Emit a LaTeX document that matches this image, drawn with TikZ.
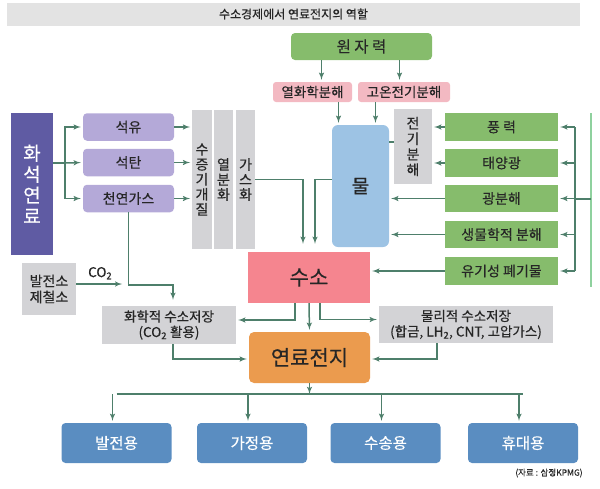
\documentclass[tikz,border=0pt]{standalone}
\usepackage{fontspec}
\setmainfont{Noto Sans CJK KR}[FakeBold=0.35]
\usepackage{xcolor}
\usepackage{tikz}
\usetikzlibrary{arrows,shapes}

\definecolor{flow}{HTML}{4E7F6B}
\definecolor{titlegray}{HTML}{E3E3E3}
\definecolor{boxgray}{HTML}{D3D3D6}
\definecolor{fuelpurple}{HTML}{5F5BA3}
\definecolor{lightpurple}{HTML}{B4A9D8}
\definecolor{srcgreen}{HTML}{86BC6C}
\definecolor{lightpink}{HTML}{F3B9C2}
\definecolor{htwopink}{HTML}{F5858F}
\definecolor{waterblue}{HTML}{9DC3E4}
\definecolor{fcorange}{HTML}{EB9B4E}
\definecolor{useblue}{HTML}{5A8DC1}
\definecolor{feedgreen}{HTML}{8FD19E}

\begin{document}
\begin{tikzpicture}[
	x=1pt, y=-1pt,
	every node/.style={
		rectangle, inner sep=0pt,
		align=center, text=black!85
	},
	box/.style={
		fill=boxgray,
		font=\fontsize{13.5}{15.5}\selectfont
	},
	vbox/.style={
		fill=boxgray, minimum width=19.5, minimum height=139,
		font=\fontsize{14}{15}\selectfont
	},
	fuel/.style={
		fill=lightpurple, rounded corners=4pt,
		minimum width=91, minimum height=27.5,
		font=\fontsize{14}{16}\selectfont
	},
	source/.style={
		fill=srcgreen,
		minimum width=113, minimum height=27.5,
		font=\fontsize{14}{16}\selectfont
	},
	split/.style={
		fill=lightpink, rounded corners=3pt,
		minimum height=20,
		font=\fontsize{13.5}{15}\selectfont
	},
	use/.style={
		fill=useblue, rounded corners=4pt, text=white,
		minimum width=110, minimum height=40,
		font=\fontsize{15.5}{17}\selectfont
	},
	line/.style={draw=flow, line width=1.5pt},
	arr/.style={line, ->, >=latex', shorten >=2pt}
]
\useasboundingbox (0,0) rectangle (600,488);

% title
\node[fill=titlegray, minimum width=573, minimum height=23,
	font=\fontsize{12}{14}\selectfont] (title) at (293.5,14) {수소경제에서 연료전지의 역할};

% nuclear branch
\node[fill=srcgreen, rounded corners=4pt, minimum width=141, minimum height=27,
	font=\fontsize{15.5}{17}\selectfont] (nuclear) at (361.5,46.5) {원 자 력};
\node[split, minimum width=79] (thermo) at (312.5,92) {열화학분해};
\node[split, minimum width=92] (hte) at (404,92) {고온전기분해};

% fossil fuels
\node[fill=fuelpurple, text=white, minimum width=42, minimum height=142,
	font=\fontsize{19}{21}\selectfont] (fossil) at (32,184) {화\\석\\연\\료};
\node[fuel] (oil) at (128.5,127) {석유};
\node[fuel] (coal) at (128.5,162.5) {석탄};
\node[fuel] (gas) at (128.5,198.5) {천연가스};
\node[vbox] (steam) at (202,179.5) {수\\증\\기\\개\\질};
\node[vbox] (pyro) at (223.5,179.5) {열\\분\\화};
\node[vbox] (gasify) at (245.5,179.5) {가\\스\\화};

% water
\node[fill=waterblue, rounded corners=6pt, minimum width=57, minimum height=122,
	font=\fontsize{19}{21}\selectfont] (water) at (360.5,186) {물};
\node[box, minimum width=38, minimum height=75,
	font=\fontsize{14}{15.5}\selectfont] (elec) at (413,146.5) {전\\기\\분\\해};

% renewable sources
\node[source] (wind) at (501.5,127) {풍 력};
\node[source] (solar) at (501.5,163) {태양광};
\node[source] (photo) at (501.5,198.5) {광분해};
\node[source] (bio) at (501.5,234.5) {생물학적 분해};
\node[source] (waste) at (501.5,271) {유기성 폐기물};

% hydrogen and storage
\node[fill=htwopink, minimum width=122, minimum height=51,
	font=\fontsize{21}{23}\selectfont] (h2) at (309,277.5) {수소};
\node[box, minimum width=54, minimum height=52,
	font=\fontsize{14}{16}\selectfont] (plant) at (49,289) {발전소\\제철소};
\node[box, minimum width=134, minimum height=38] (chem) at (169,325)
	{화학적 수소저장\\(CO\textsubscript{2} 활용)};
\node[box, minimum width=174, minimum height=37] (phys) at (466,324.5)
	{물리적 수소저장\\(합금, LH\textsubscript{2}, CNT, 고압가스)};
\node[fill=fcorange, rounded corners=5pt, minimum width=121, minimum height=51,
	font=\fontsize{21}{23}\selectfont] (fc) at (309.5,357.5) {연료전지};

% uses
\node[use] (use1) at (116.5,443) {발전용};
\node[use] (use2) at (252,443) {가정용};
\node[use] (use3) at (385.5,443) {수송용};
\node[use] (use4) at (523,443) {휴대용};

\node[font=\fontsize{8.5}{9}\selectfont] (ref) at (549,473) {(자료 : 삼정KPMG)};

% connectors
\coordinate (fsplit) at (65,163);
\draw[line] (fossil.east |- fsplit) -- (fsplit);
\draw[arr] (fsplit) -- (coal.west);
\draw[arr] (fsplit) |- (oil.west);
\draw[arr] (fsplit) |- (gas.west);
\foreach \n in {oil,coal,gas}
	\draw[arr] (\n.east) -- (\n.east -| steam.west);

\draw[arr] ([xshift=-40]nuclear.south) -- ([xshift=-40]nuclear.south |- thermo.north);
\draw[arr] ([xshift=38]nuclear.south) -- ([xshift=38]nuclear.south |- hte.north);
\draw[arr] ([xshift=-22]water.north |- thermo.south) -- ([xshift=-22]water.north);
\draw[arr] ([xshift=15]water.north |- hte.south) -- ([xshift=15]water.north);

\draw[arr, shorten >=8pt] (gasify.east) -| ([xshift=-6]h2.north);
\draw[arr, shorten >=8pt] (water.west |- gasify.east) -| ([xshift=6]h2.north);
\draw[line] ([yshift=44]water.east) -- ([yshift=44]water.east -| elec.west);

\draw[arr] (wind.west) -- (wind.west -| elec.east);
\draw[arr] (solar.west) -- (solar.west -| elec.east);
\draw[arr] (photo.west) -- (photo.west -| water.east);
\draw[arr] (bio.west) -- (bio.west -| water.east);
\draw[arr] (waste.west) -- (waste.west -| h2.east);

\coordinate (rbus) at (575,199);
\coordinate (feedtop) at (591,113);
\coordinate (feedbot) at (591,287);
\draw[draw=feedgreen, line width=1.5pt] (feedtop) -- (feedbot);
\draw[line] (rbus |- wind) -- (rbus |- waste);
\draw[line] (feedtop |- rbus) -- (rbus);
\foreach \n in {wind,solar,photo,bio,waste}
	\draw[arr] (rbus |- \n) -- (\n.east);

\draw[arr] ([yshift=5]plant.east) -- ++(48,0)
	node[midway, above=4pt, font=\fontsize{13.5}{15}\selectfont] (co2) {CO\textsubscript{2}};
\draw[arr, shorten >=6pt] (gas.south) |- ([xshift=4,yshift=21]chem.north) -- ([xshift=4]chem.north);

\draw[arr] ([xshift=-14]h2.south) |- ([yshift=5]chem.east);
\draw[arr] ([xshift=11]h2.south) |- ([yshift=5]phys.west);
\draw[arr] (h2.south) -- (fc.north);
\draw[arr] ([xshift=4]chem.south) |- ([yshift=-1.5]fc.west);
\draw[arr] ([xshift=-29]phys.south) |- ([yshift=-1.5]fc.east);

\coordinate (ubus) at (309.5,394);
\draw[arr, shorten >=0pt] (fc.south) -- (ubus);
\draw[line] (ubus -| use1) -- (ubus -| use4);
\foreach \n in {use1,use2,use3,use4}
	\draw[arr] ([xshift=-4]ubus -| \n.north) -- ([xshift=-4]\n.north);
\end{tikzpicture}
\end{document}
